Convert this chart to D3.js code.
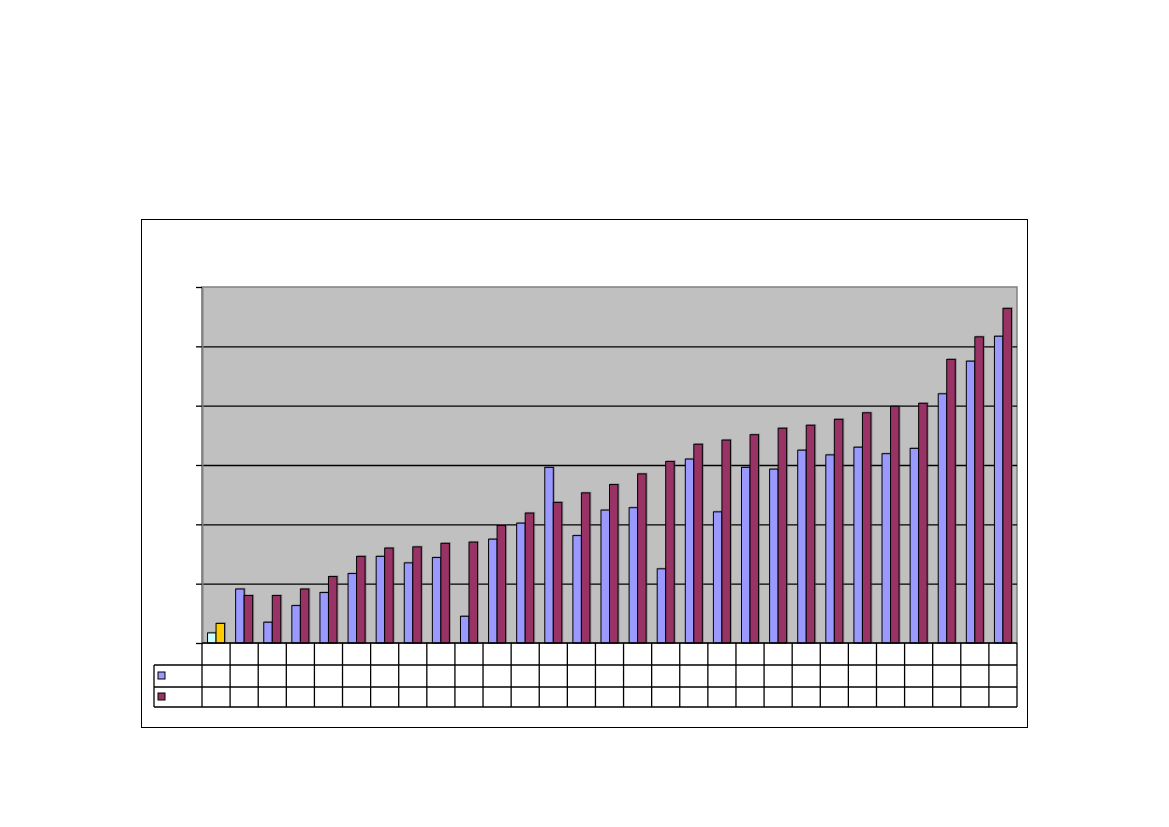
<!DOCTYPE html>
<html>
<head>
<meta charset="utf-8">
<script src="https://cdn.jsdelivr.net/npm/d3@7"></script>
<style>
  body { margin: 0; background: #fff; }
  svg { display: block; }
</style>
</head>
<body>
<div id="chart"></div>
<script>
// categories have no visible labels in the source, only numbered slots
var categories = ["c1", "c2", "c3", "c4", "c5", "c6", "c7", "c8", "c9", "c10",
    "c11", "c12", "c13", "c14", "c15", "c16", "c17", "c18", "c19", "c20",
    "c21", "c22", "c23", "c24", "c25", "c26", "c27", "c28", "c29"];

var seriesA = [0.17, 0.91, 0.35, 0.63, 0.85, 1.17, 1.46, 1.35, 1.44, 0.45,
    1.75, 2.02, 2.96, 1.81, 2.24, 2.28, 1.25, 3.10, 2.21, 2.96,
    2.93, 3.25, 3.17, 3.30, 3.19, 3.28, 4.20, 4.75, 5.17];

var seriesB = [0.33, 0.80, 0.80, 0.91, 1.12, 1.46, 1.60, 1.62, 1.68, 1.70,
    1.98, 2.19, 2.37, 2.53, 2.67, 2.85, 3.06, 3.35, 3.42, 3.51,
    3.62, 3.67, 3.77, 3.88, 3.99, 4.04, 4.78, 5.16, 5.64];

var yTicks = [0, 1, 2, 3, 4, 5, 6];

var fullWidth = 1169;
var fullHeight = 827;

var box = { left: 141, top: 219, right: 1027, bottom: 727 };
var plot = { left: 202, top: 287, right: 1017, bottom: 643 };
var rowH = [22, 22, 20];
var keyLeft = 154;

var colA = "#9999FF", colB = "#993366";
// first category is formatted differently in the original
var firstA = "#CCFFFF", firstB = "#FFCC00";

var svg = d3.select("#chart").append("svg")
    .attr("width", fullWidth)
    .attr("height", fullHeight);

// outer chart frame
svg.append("rect")
    .attr("x", box.left + 0.5).attr("y", box.top + 0.5)
    .attr("width", box.right - box.left).attr("height", box.bottom - box.top)
    .attr("fill", "#fff").attr("stroke", "#000").attr("stroke-width", 1);

var y = d3.scaleLinear()
    .domain([0, 6])
    .range([plot.bottom, plot.top]);

var x = d3.scaleBand()
    .domain(categories)
    .range([plot.left, plot.right])
    .padding(0);

var x1 = d3.scaleBand()
    .domain(["a", "b"])
    .range([0, x.bandwidth()])
    .paddingInner(0)
    .paddingOuter(0.65);

// plot area
svg.append("rect")
    .attr("x", plot.left).attr("y", plot.top)
    .attr("width", plot.right - plot.left).attr("height", plot.bottom - plot.top)
    .attr("fill", "#C0C0C0").attr("stroke", "#808080").attr("stroke-width", 1.5);

// gridlines
svg.append("g")
    .attr("class", "grid")
    .attr("transform", "translate(" + plot.left + ",0)")
    .call(d3.axisLeft(y).tickValues(yTicks.slice(1, -1)).tickSize(-(plot.right - plot.left)).tickFormat(""))
    .call(g => g.select(".domain").remove())
    .call(g => g.selectAll("line").attr("stroke", "#000").attr("stroke-width", 1.3));

var rows = categories.map(function (c, i) {
    return { cat: c, a: seriesA[i], b: seriesB[i], i: i };
});

var groups = svg.append("g").selectAll("g")
    .data(rows)
    .join("g")
    .attr("transform", d => "translate(" + x(d.cat) + ",0)");

// soft shadows
groups.selectAll("rect.shadow")
    .data(d => [{ k: "a", v: d.a }, { k: "b", v: d.b }])
    .join("rect")
    .attr("class", "shadow")
    .attr("x", d => x1(d.k) + 0.5)
    .attr("y", d => y(d.v) - 1.2)
    .attr("width", x1.bandwidth() + 1)
    .attr("height", d => plot.bottom - y(d.v) + 1.2)
    .attr("fill", "#555").attr("opacity", 0.45);

groups.selectAll("rect.bar")
    .data(d => [{ k: "a", v: d.a, i: d.i }, { k: "b", v: d.b, i: d.i }])
    .join("rect")
    .attr("class", "bar")
    .attr("x", d => x1(d.k))
    .attr("y", d => y(d.v))
    .attr("width", x1.bandwidth())
    .attr("height", d => plot.bottom - y(d.v))
    .attr("fill", d => d.i === 0 ? (d.k === "a" ? firstA : firstB) : (d.k === "a" ? colA : colB))
    .attr("stroke", "#000").attr("stroke-width", 1);

// y axis: ticks only, no labels
svg.append("g")
    .attr("class", "axis y")
    .attr("transform", "translate(" + plot.left + ",0)")
    .call(d3.axisLeft(y).tickValues(yTicks).tickSize(6).tickSizeOuter(0).tickFormat(""))
    .call(g => g.select(".domain").attr("stroke", "#808080").attr("stroke-width", 2))
    .call(g => g.selectAll(".tick line").attr("stroke", "#000").attr("stroke-width", 1.3));

// data table
var table = svg.append("g").attr("class", "table")
    .attr("stroke", "#000").attr("stroke-width", 1.3).attr("fill", "none");

var r0 = plot.bottom, r1 = r0 + rowH[0], r2 = r1 + rowH[1], r3 = r2 + rowH[2];

// horizontal lines
table.append("line").attr("x1", plot.left).attr("x2", plot.right).attr("y1", r0).attr("y2", r0);
[r1, r2, r3].forEach(function (yy) {
    table.append("line").attr("x1", keyLeft).attr("x2", plot.right).attr("y1", yy).attr("y2", yy);
});

// vertical lines at category edges
var edges = categories.map(c => x(c)).concat([plot.right]);
table.selectAll("line.v")
    .data(edges)
    .join("line")
    .attr("class", "v")
    .attr("x1", d => d).attr("x2", d => d)
    .attr("y1", r0).attr("y2", r3);

table.append("line").attr("x1", keyLeft).attr("x2", keyLeft).attr("y1", r1).attr("y2", r3);

// legend keys
var keys = [{ c: colA, y: (r1 + r2) / 2 }, { c: colB, y: (r2 + r3) / 2 }];
svg.append("g").selectAll("rect")
    .data(keys)
    .join("rect")
    .attr("x", 158).attr("y", d => d.y - 4)
    .attr("width", 7).attr("height", 7)
    .attr("fill", d => d.c)
    .attr("stroke", "#000").attr("stroke-width", 1);
</script>
</body>
</html>
